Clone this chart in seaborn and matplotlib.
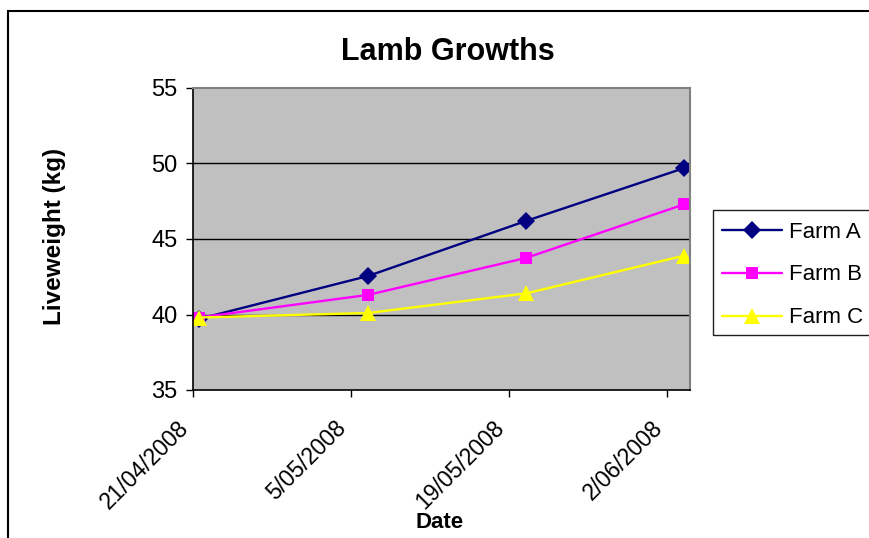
import matplotlib
matplotlib.use("Agg")
import matplotlib.pyplot as plt
import matplotlib.dates as mdates
from matplotlib.patches import Rectangle
import pandas as pd
import seaborn as sns

# Weigh-in dates and mean liveweights (kg) per farm
dates = ["2008-04-21", "2008-05-06", "2008-05-20", "2008-06-03"]
farm_a = [39.7, 42.55, 46.2, 49.7]
farm_b = [39.8, 41.3, 43.75, 47.3]
farm_c = [39.8, 40.1, 41.4, 43.9]
farms = ["Farm A", "Farm B", "Farm C"]
colors = ["#000080", "#FF00FF", "#FFFF00"]
markers = ["D", "s", "^"]
marker_sizes = [9.5, 9, 11]
tick_dates = ["2008-04-21", "2008-05-05", "2008-05-19", "2008-06-02"]
tick_labels = ["21/04/2008", "5/05/2008", "19/05/2008", "2/06/2008"]
y_ticks = [35, 40, 45, 50, 55]

rows = []
for farm, vals in zip(farms, [farm_a, farm_b, farm_c]):
    for d, v in zip(dates, vals):
        rows.append({"Farm": farm, "Date": d, "Liveweight": v})
df = pd.DataFrame(rows)
# each day occupies a whole unit on the date axis; points sit mid-day
df["Date"] = pd.to_datetime(df["Date"]) + pd.Timedelta(hours=12)

sns.set_theme(style="white")
plt.rcParams["font.family"] = ["Liberation Sans", "DejaVu Sans"]
for key in ["text.color", "axes.labelcolor", "xtick.color", "ytick.color"]:
    plt.rcParams[key] = "black"

W, H = 869, 538
fig = plt.figure(figsize=(W / 100, H / 100), dpi=100)
fig.patch.set_facecolor("white")
ax = fig.add_axes([193 / W, 1 - 390 / H, (690 - 193) / W, (390 - 88) / H])
ax.set_facecolor("#C0C0C0")

sns.lineplot(
    data=df, x="Date", y="Liveweight", hue="Farm", style="Farm",
    palette=colors, markers=markers, dashes=False, linewidth=1.7,
    markersize=9, markeredgewidth=0, ax=ax, legend=True,
)
for line, ms in zip(ax.lines, marker_sizes):
    line.set_markersize(ms)

ax.set_ylim(35, 55)
ax.set_yticks(y_ticks)
ax.set_xlim(pd.Timestamp("2008-04-21"), pd.Timestamp("2008-06-04"))
ax.set_xticks([mdates.date2num(pd.Timestamp(t)) for t in tick_dates])
ax.set_xticklabels(tick_labels, rotation=45, ha="right", va="top",
                   rotation_mode="default", fontsize=16.5)
ax.tick_params(axis="y", labelsize=17, length=5, width=1, direction="out",
               left=True, pad=6)
ax.tick_params(axis="x", length=5, width=1, direction="out", bottom=True,
               pad=14)

ax.grid(False)
for y in y_ticks[1:-1]:
    ax.axhline(y, color="black", linewidth=1, zorder=0.5)

for side in ["left", "bottom"]:
    ax.spines[side].set_color("black")
    ax.spines[side].set_linewidth(1.2)
for side in ["top", "right"]:
    ax.spines[side].set_color("#808080")
    ax.spines[side].set_linewidth(1.5)

fig.text(448 / W, 1 - 60 / H, "Lamb Growths", fontsize=22, fontweight="bold",
         ha="center", va="baseline")
ax.set_ylabel("Liveweight (kg)", fontsize=17.5, fontweight="bold")
ax.yaxis.set_label_coords(-0.256, 0.507)
ax.set_xlabel("Date", fontsize=16, fontweight="bold")
ax.xaxis.set_label_coords(0.497, -0.404)

handles, labels = ax.get_legend_handles_labels()
ax.get_legend().remove()
for h, ms in zip(handles, marker_sizes):
    h.set_markersize(ms)
    h.set_linewidth(1.7)
leg = fig.legend(
    handles, labels, loc="center left",
    bbox_to_anchor=(722 / W, 1 - 275 / H), bbox_transform=fig.transFigure,
    fontsize=16, frameon=False, handlelength=2.7, handletextpad=0.3,
    labelspacing=0.98, borderpad=0, borderaxespad=0,
)

# legend box (runs off the right edge)
fig.patches.append(Rectangle((713 / W, 1 - 335 / H), 200 / W, 125 / H,
                             transform=fig.transFigure, fill=False,
                             edgecolor="#202020", linewidth=1))
# chart-area border
fig.patches.append(Rectangle((8 / W, -0.05), 1.05, 1 - 11 / H + 0.05,
                             transform=fig.transFigure, fill=False,
                             edgecolor="black", linewidth=1.5))

fig.savefig("out.png", dpi=100)
